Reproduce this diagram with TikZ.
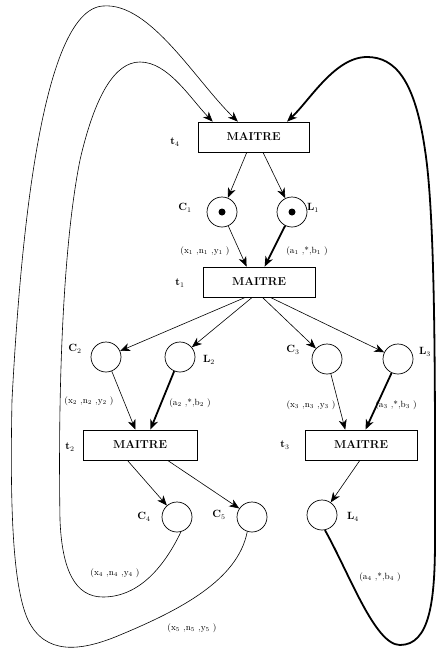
\documentclass[tikz,border=0pt]{standalone}
\usetikzlibrary{arrows.meta,calc}
\begin{document}
\begin{tikzpicture}[x=1pt,y=-1pt,
  place/.style={circle,draw,minimum size=30pt,inner sep=0pt,line width=0.7pt},
  trans/.style={rectangle,draw,minimum width=111pt,minimum height=30pt,inner sep=0pt,line width=0.7pt,font=\fontsize{11.5}{14}\selectfont\bfseries},
  lbl/.style={font=\fontsize{10.5}{12}\selectfont\bfseries,inner sep=0pt},
  tup/.style={font=\fontsize{9}{11}\selectfont,inner sep=0pt},
  arc/.style={-{Stealth[length=10pt,width=8pt,inset=3pt]},line width=0.6pt},
  tarc/.style={arc,line width=1.8pt}]
\useasboundingbox (0,0) rectangle (437,651);

% transitions
\node[trans] (t4) at (253.5,137) {MAITRE};
\node[trans,minimum width=112pt] (t1) at (259,282) {MAITRE};
\node[trans,minimum width=114pt] (t2) at (140,445) {MAITRE};
\node[trans,minimum width=112pt] (t3) at (361,445) {MAITRE};

\node[lbl] (lt4) at (175,142) {t$_4$};
\node[lbl] (lt1) at (180,283) {t$_1$};
\node[lbl] (lt2) at (70,447) {t$_2$};
\node[lbl] (lt3) at (285,445) {t$_3$};

% places
\node[place] (C1) at (222,212) {};
\node[place] (L1) at (292,212) {};
\node[place] (C2) at (106,357) {};
\node[place] (L2) at (180,357) {};
\node[place] (C3) at (327,359) {};
\node[place] (L3) at (398,359) {};
\node[place] (C4) at (177,517) {};
\node[place] (C5) at (252,517) {};
\node[place] (L4) at (322,515) {};

\fill (C1) circle (3.5pt);
\fill (L1) circle (3.5pt);

\node[lbl] (lC1) at (185,208) {C$_1$};
\node[lbl] (lL1) at (313,208) {L$_1$};
\node[lbl] (lC2) at (75,349) {C$_2$};
\node[lbl] (lL2) at (209,360) {L$_2$};
\node[lbl] (lC3) at (293,350) {C$_3$};
\node[lbl] (lL3) at (425,352) {L$_3$};
\node[lbl] (lC4) at (144,517) {C$_4$};
\node[lbl] (lC5) at (219,515) {C$_5$};
\node[lbl] (lL4) at (353,517) {L$_4$};

% tuple labels
\node[tup] (e1) at (205,251) {(x$_1$ ,n$_1$ ,y$_1$ )};
\node[tup] (f1) at (307,251) {(a$_1$ ,*,b$_1$ )};
\node[tup] (e2) at (89,401) {(x$_2$ ,n$_2$ ,y$_2$ )};
\node[tup] (f2) at (190,403) {(a$_2$ ,*,b$_2$ )};
\node[tup] (e3) at (311,405) {(x$_3$ ,n$_3$ ,y$_3$ )};
\node[tup] (f3) at (396,405) {(a$_3$ ,*,b$_3$ )};
\node[tup] (e4) at (115,573) {(x$_4$ ,n$_4$ ,y$_4$ )};
\node[tup] (e5) at (192,628) {(x$_5$ ,n$_5$ ,y$_5$ )};
\node[tup] (f4) at (380,577) {(a$_4$ ,*,b$_4$ )};

% anchor points on transitions
\coordinate (t4a) at ($(t4.north west)!0.135!(t4.north east)$);
\coordinate (t4b) at ($(t4.north west)!0.36!(t4.north east)$);
\coordinate (t4c) at ($(t4.north west)!0.80!(t4.north east)$);

% t4 -> C1, L1
\draw[arc] ($(t4.south west)!0.44!(t4.south east)$) -- (C1);
\draw[arc] ($(t4.south west)!0.585!(t4.south east)$) -- (L1);
% C1, L1 -> t1
\draw[arc] (C1) -- ($(t1.north west)!0.39!(t1.north east)$);
\draw[tarc] (L1) -- ($(t1.north west)!0.55!(t1.north east)$);
% t1 -> C2, L2, C3, L3
\draw[arc] ($(t1.south west)!0.38!(t1.south east)$) -- (C2);
\draw[arc] ($(t1.south west)!0.44!(t1.south east)$) -- (L2);
\draw[arc] ($(t1.south west)!0.53!(t1.south east)$) -- (C3);
\draw[arc] ($(t1.south west)!0.60!(t1.south east)$) -- (L3);
% C2, L2 -> t2
\draw[arc] (C2) -- ($(t2.north west)!0.46!(t2.north east)$);
\draw[tarc] (L2) -- ($(t2.north west)!0.59!(t2.north east)$);
% C3, L3 -> t3
\draw[arc] (C3) -- ($(t3.north west)!0.36!(t3.north east)$);
\draw[tarc] (L3) -- ($(t3.north west)!0.54!(t3.north east)$);
% t2 -> C4, C5 ; t3 -> L4
\draw[arc] ($(t2.south west)!0.39!(t2.south east)$) -- (C4);
\draw[arc] ($(t2.south west)!0.74!(t2.south east)$) -- (C5);
\draw[arc] ($(t3.south west)!0.49!(t3.south east)$) -- (L4);

% inner loop C4 -> t4
\draw[arc] (C4.285) .. controls (165,565) and (140,597) .. (103,597)
  .. controls (75,597) and (62,570) .. (60,520)
  .. controls (58,400) and (62,250) .. (80,160)
  .. controls (95,95) and (115,62) .. (140,62)
  .. controls (168,62) and (190,98) .. (t4a);
% outer loop C5 -> t4
\draw[arc] (C5.252) .. controls (238,580) and (180,610) .. (120,635)
  .. controls (80,652) and (45,655) .. (28,620)
  .. controls (12,585) and (10,500) .. (12,400)
  .. controls (20,250) and (40,10) .. (103,6)
  .. controls (150,2) and (195,80) .. (t4b);
% thick loop L4 -> t4
\draw[tarc] (L4.281) .. controls (350,575) and (375,645) .. (400,645)
  .. controls (430,645) and (435,600) .. (435,540)
  .. controls (435,400) and (436,220) .. (425,150)
  .. controls (415,80) and (395,57) .. (367,57)
  .. controls (335,57) and (310,100) .. (t4c);
\end{tikzpicture}
\end{document}
